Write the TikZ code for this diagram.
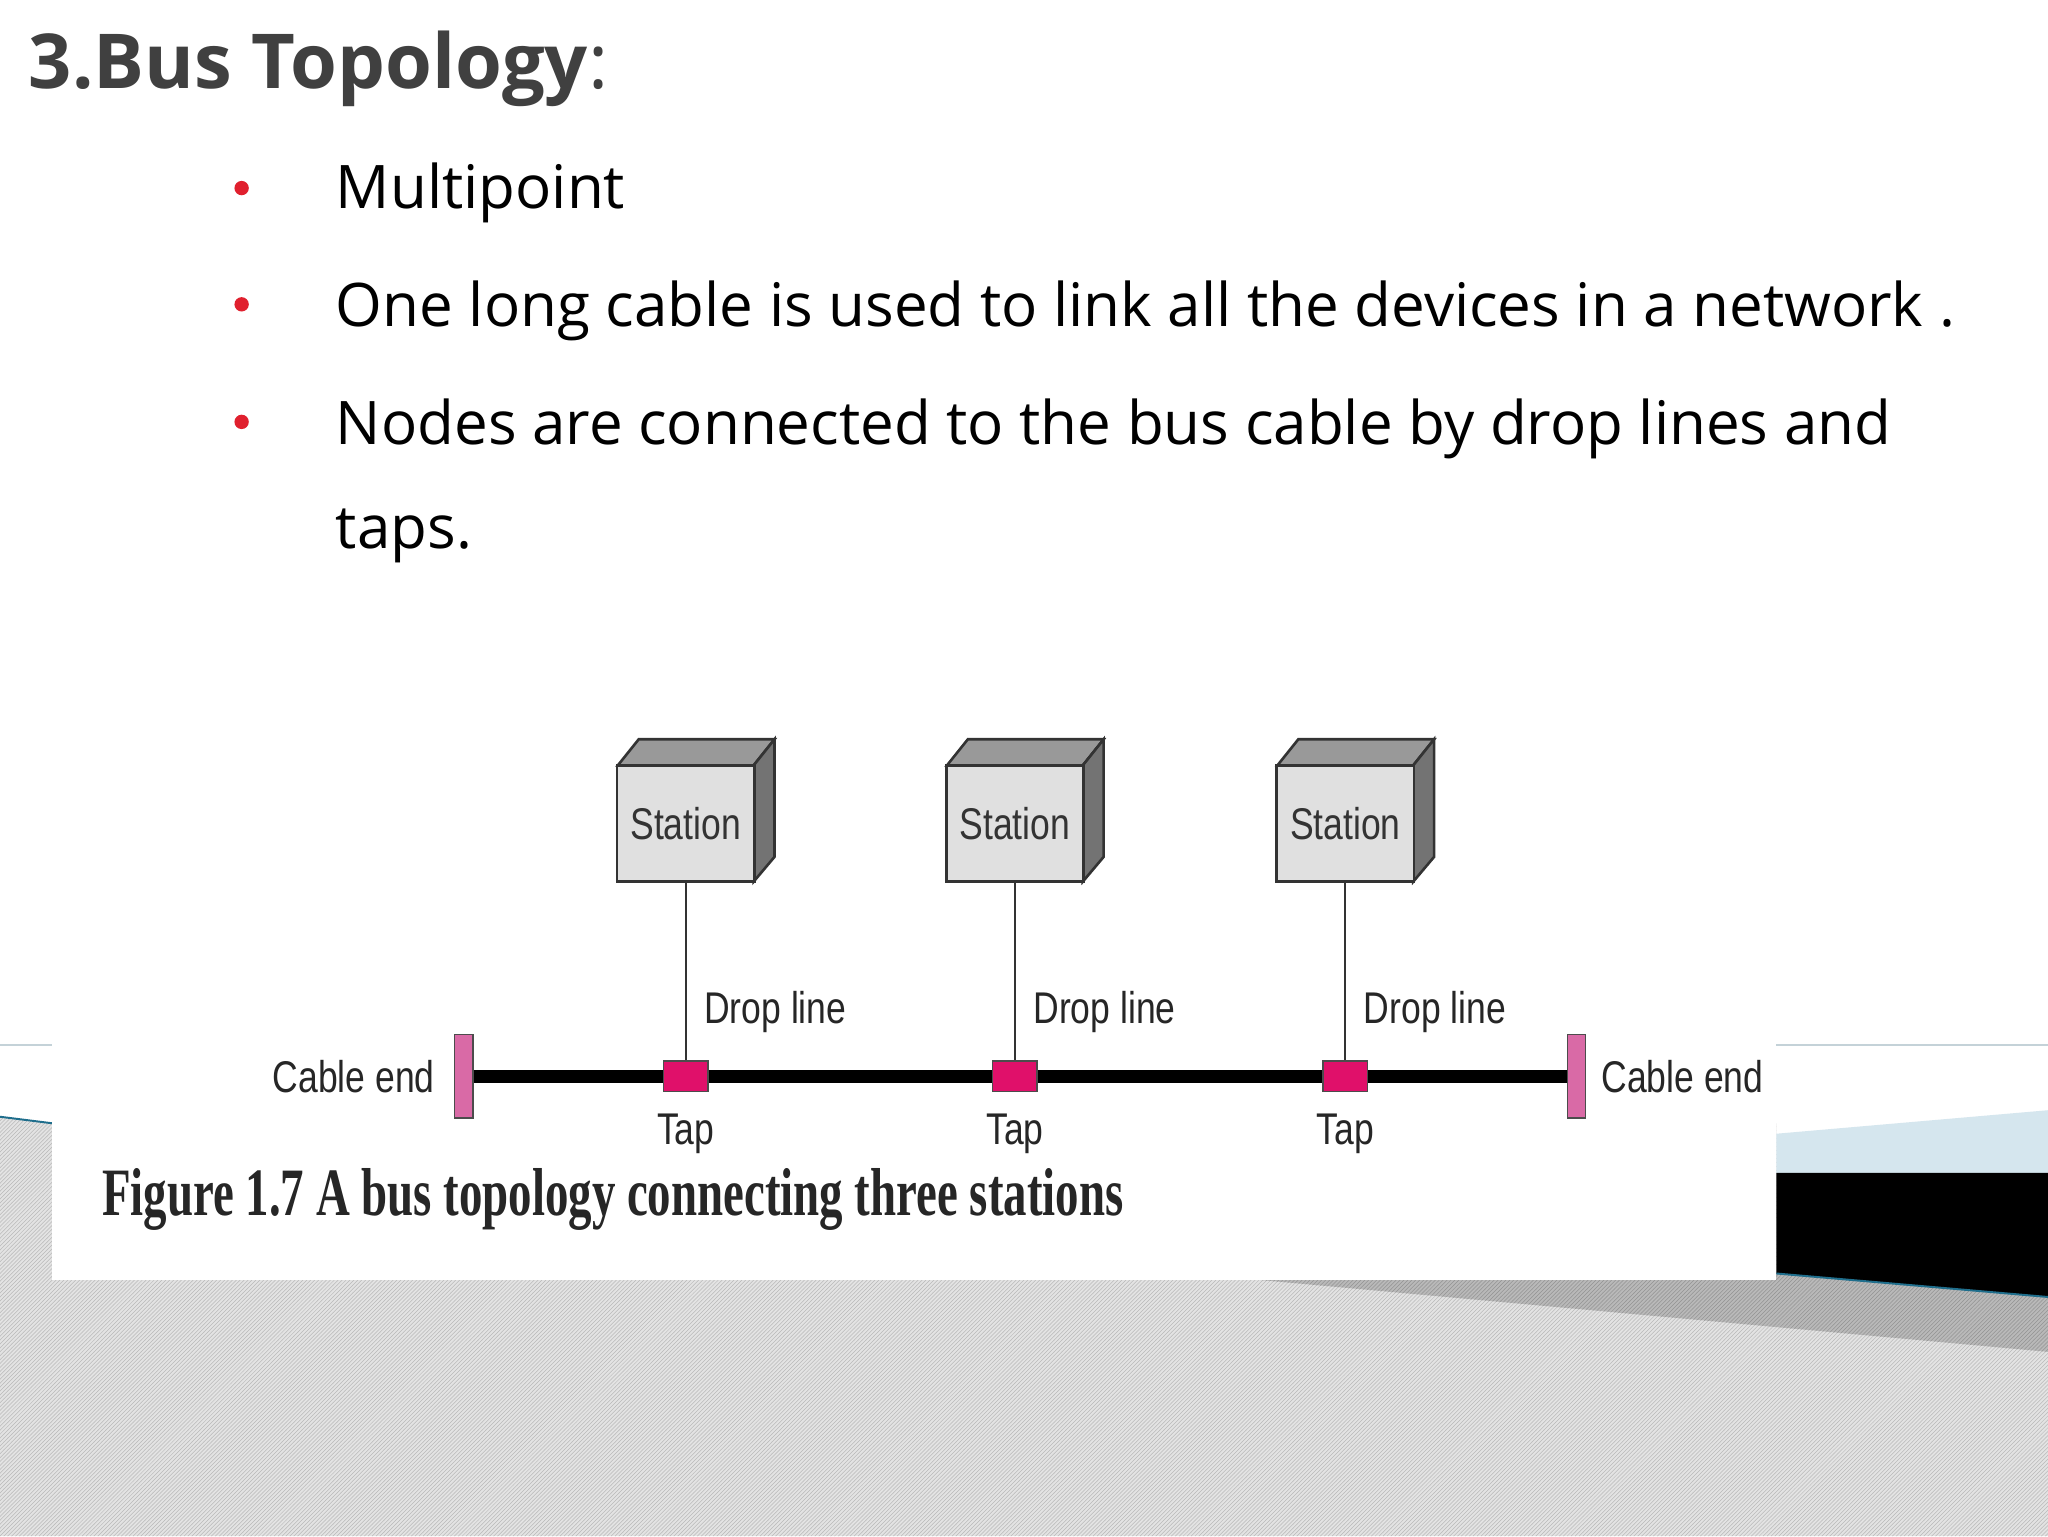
\documentclass[tikz,border=0pt]{standalone}
\usepackage{fontspec}
\setmainfont{Open Sans}
\newfontfamily\figsans{Liberation Sans}
\newfontfamily\figserif{Liberation Serif}
\usetikzlibrary{patterns}
\definecolor{titlegray}{HTML}{404040}
\definecolor{bulletred}{HTML}{E0202E}
\definecolor{tappink}{HTML}{E0106A}
\definecolor{endpink}{HTML}{D96AA6}
\definecolor{teal}{HTML}{1F6E8C}
\definecolor{lightband}{HTML}{D5E6EE}
\tikzset{
  bul/.style={anchor=base west,font=\fontsize{46}{50}\selectfont,text=black,inner sep=0},
  dot/.style={circle,fill=bulletred,inner sep=0,minimum size=11pt},
  stn/.style={draw=black!80,line width=2pt,fill=black!12,minimum width=105pt,minimum height=89pt,inner sep=0,
     font=\figsans\fontsize{34}{36}\selectfont,text=black!80},
  tap/.style={draw=black!70,line width=1.2pt,fill=tappink,minimum width=34pt,minimum height=23pt,inner sep=0},
  cend/.style={draw=black!70,line width=1.2pt,fill=endpink,minimum width=14pt,minimum height=64pt,inner sep=0},
  lbl/.style={font=\figsans\fontsize{34}{36}\selectfont,text=black!85,inner sep=0},
  hatch/.style={fill=gray!22,postaction={pattern=north east lines,pattern color=gray!55}},
  hatchdark/.style={fill=gray!55,postaction={pattern=north east lines,pattern color=gray!85}}
}
\begin{document}
\begin{tikzpicture}[x=1pt,y=-1pt]
\useasboundingbox (0,0) rectangle (1568,1176);
\fill[white] (0,0) rectangle (1568,1176);
% background
\path[hatch] (0,855) -- (40,860) -- (1360,860) -- (1360,975) -- (1568,1000) -- (1568,1176) -- (0,1176) -- cycle;
\path[hatchdark] (965,980) -- (1360,975) -- (1568,993) -- (1568,1035) -- cycle;
\fill[lightband] (1360,868) -- (1568,850) -- (1568,898) -- (1360,898) -- cycle;
\fill[black] (1360,898) -- (1568,898) -- (1568,993) -- (1360,975) -- cycle;
\draw[teal,line width=1.5pt] (1360,975) -- (1568,993);
\draw[teal,line width=1.5pt] (0,855) -- (40,860);
\draw[lightband!80!gray,line width=1pt] (0,800) -- (40,800) (1360,800) -- (1568,800);
\fill[white] (40,800) rectangle (1360,980);
% title and bullets
\node[anchor=base west,inner sep=0,text=titlegray,font=\fontsize{58}{60}\selectfont] (title) at (22,68) {\textbf{3.Bus Topology}:};
\node[dot] (d1) at (185,144) {};
\node[dot] (d2) at (185,233) {};
\node[dot] (d3) at (185,323) {};
\node[bul] (b1) at (257,160) {Multipoint};
\node[bul] (b2) at (257,250) {One long cable is used to link all the devices in a network .};
\node[bul] (b3) at (257,340) {Nodes are connected to the bus cable by drop lines and};
\node[bul] (b4) at (257,420) {taps.};
% figure
\foreach \i/\x in {1/525,2/777,3/1030}{
  \fill[black!40,draw=black!80,line width=2pt] (\x-52,586) -- (\x-36,566) -- (\x+68,566) -- (\x+52,586) -- cycle;
  \fill[black!55,draw=black!80,line width=2pt] (\x+52,586) -- (\x+68,566) -- (\x+68,656) -- (\x+52,675) -- cycle;
  \node[stn] (s\i) at (\x,630.5) {\scalebox{0.8}[1]{Station}};
  \node[tap] (t\i) at (\x,824) {};
  \node[lbl,anchor=west] (dl\i) at (\x+14,775) {\scalebox{0.8}[1]{Drop line}};
  \node[lbl] (tl\i) at (\x,868) {\scalebox{0.8}[1]{Tap}};
}
\node[cend] (e1) at (355,824) {};
\node[cend] (e2) at (1207,824) {};
\draw[black,line width=10pt] (e1.east) -- (t1.west) (t1.east) -- (t2.west) (t2.east) -- (t3.west) (t3.east) -- (e2.west);
\foreach \i in {1,2,3}{\draw[black!80,line width=1.5pt] (s\i.south) -- (t\i.north);}
\node[lbl,anchor=east] (ce1) at (333,824) {\scalebox{0.8}[1]{Cable end}};
\node[lbl,anchor=west] (ce2) at (1226,824) {\scalebox{0.8}[1]{Cable end}};
\node[anchor=west,inner sep=0,font=\figserif\bfseries\fontsize{40}{42}\selectfont,text=black!85] (cap) at (78,918)
  {\resizebox{782pt}{36pt}{Figure 1.7 A bus topology connecting three stations}};
\end{tikzpicture}
\end{document}
